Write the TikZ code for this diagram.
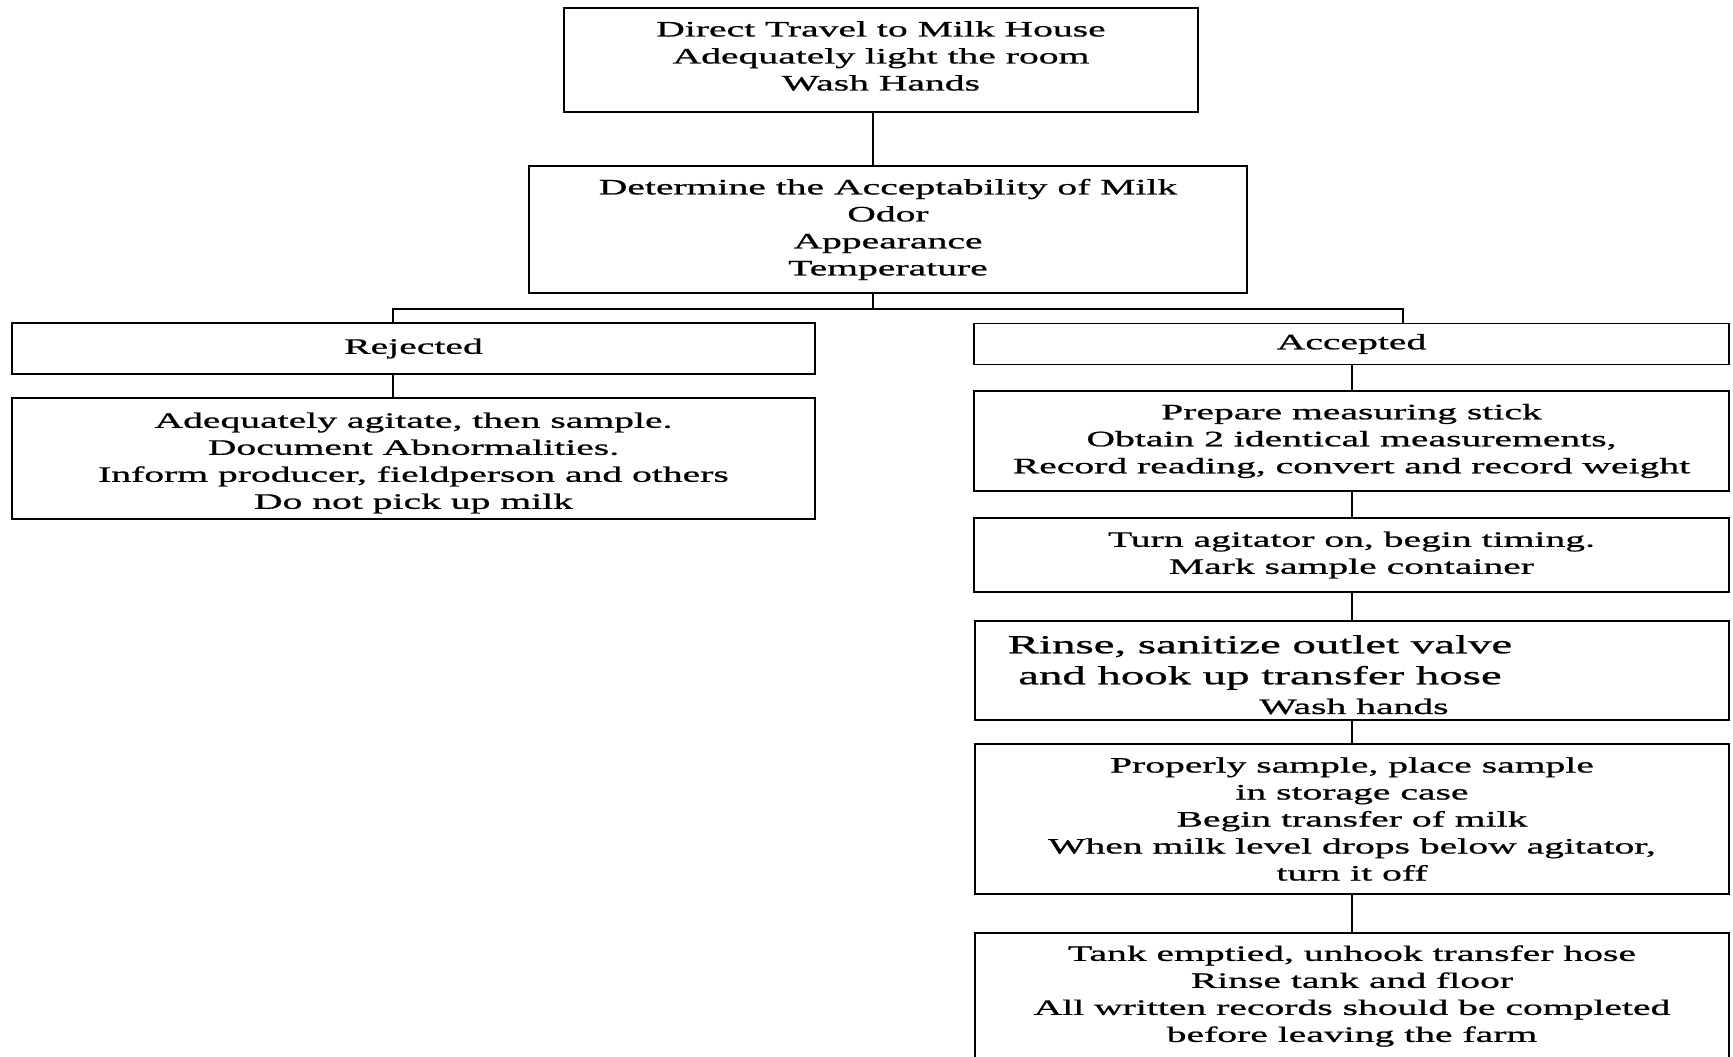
\documentclass[tikz,border=0pt]{standalone}
\usepackage{fontspec}
\setmainfont{Liberation Serif}[FakeStretch=1.8,FakeBold=0.9]
\begin{document}
\begin{tikzpicture}[x=1pt,y=-1pt,
  box/.style={draw, line width=1.6pt, inner sep=0pt, align=center, font=\fontsize{22}{27}\selectfont},
  txt/.style={inner sep=0pt, align=center, font=\fontsize{22}{27}\selectfont},
  conn/.style={line width=1.6pt}]
\useasboundingbox (0,0) rectangle (1733,1057);
\clip (0,0) rectangle (1733,1057);
\fill[white] (0,0) rectangle (1733,1057);

\node[box, minimum width=634pt, minimum height=104pt] (top) at (881,60) {};
\node[txt] (topt) at (881,56)
  {Direct Travel to Milk House\\Adequately light the room\\Wash Hands};
\node[box, minimum width=718pt, minimum height=127pt] (det) at (888,229.5)
  {Determine the Acceptability of Milk\\Odor\\Appearance\\Temperature};
\node[box, minimum width=803pt, minimum height=51pt] (rej) at (413.5,348.5) {Rejected};
\node[box, minimum width=803pt, minimum height=121pt] (rejd) at (413.5,458.5) {};
\node[txt] (rejdt) at (413.5,463)
  {Adequately agitate, then sample.\\Document Abnormalities.\\Inform producer, fieldperson and others\\Do not pick up milk};
\node[box, minimum width=755pt, minimum height=41pt] (acc) at (1351.5,344) {Accepted};
\node[box, minimum width=755pt, minimum height=100pt] (a1) at (1351.5,441)
  {Prepare measuring stick\\Obtain 2 identical measurements,\\Record reading, convert and record weight};
\node[box, minimum width=755pt, minimum height=74pt] (a2) at (1351.5,555)
  {Turn agitator on, begin timing.\\Mark sample container};
\node[box, minimum width=754pt, minimum height=99pt] (a3) at (1352,670.5) {};
\node[txt, font=\fontsize{26}{31}\selectfont] (a3t) at (1260,662.5)
  {Rinse, sanitize outlet valve\\and hook up transfer hose};
\node[txt] (a3w) at (1354,706.5) {Wash hands};
\node[box, minimum width=754pt, minimum height=150pt] (a4) at (1352,819)
  {Properly sample, place sample\\in storage case\\Begin transfer of milk\\When milk level drops below agitator,\\turn it off};
\node[box, minimum width=754pt, minimum height=160pt, anchor=north] (a5) at (1352,932) {};
\node[txt] (a5t) at (1352,996)
  {Tank emptied, unhook transfer hose\\Rinse tank and floor\\All written records should be completed\\before leaving the farm};

\coordinate (trunk) at (873,309);
\coordinate (bl) at (393,309);
\coordinate (br) at (1403,309);
\coordinate (ax) at (1352,0);
\draw[conn] (top.south -| trunk) -- (det.north -| trunk);
\draw[conn] (det.south -| trunk) -- (trunk);
\draw[conn] (rej.north -| bl) -- (bl) -- (br) -- (acc.north -| br);
\draw[conn] (rej.south -| bl) -- (rejd.north -| bl);
\draw[conn] (acc.south -| ax) -- (a1.north -| ax);
\draw[conn] (a1.south -| ax) -- (a2.north -| ax);
\draw[conn] (a2.south -| ax) -- (a3.north -| ax);
\draw[conn] (a3.south -| ax) -- (a4.north -| ax);
\draw[conn] (a4.south -| ax) -- (a5.north -| ax);
\end{tikzpicture}
\end{document}
